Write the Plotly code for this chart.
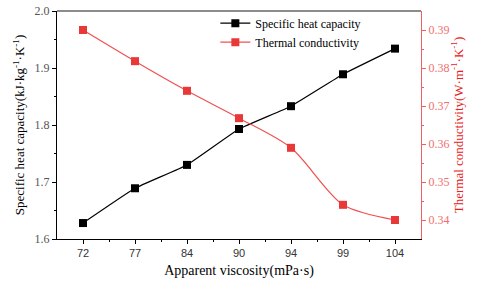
import plotly.graph_objects as go

viscosity = ["72", "77", "84", "90", "94", "99", "104"]
heat_capacity = [1.628, 1.689, 1.730, 1.793, 1.833, 1.889, 1.934]
thermal_cond = [0.390, 0.3818, 0.374, 0.3668, 0.359, 0.344, 0.340]

xpos = list(range(len(viscosity)))
serif = "Liberation Serif, Times New Roman, serif"

fig = go.Figure()
fig.add_trace(go.Scatter(
    x=xpos, y=heat_capacity, name="Specific heat capacity", mode="lines+markers",
    line=dict(color="black", width=1.2, shape="spline", smoothing=0.3),
    marker=dict(symbol="square", size=8, color="black"),
))
fig.add_trace(go.Scatter(
    x=xpos, y=thermal_cond, name="Thermal conductivity", mode="lines+markers",
    yaxis="y2",
    line=dict(color="#f05050", width=1.2, shape="spline", smoothing=0.8),
    marker=dict(symbol="square", size=8, color="#e83838"),
))

fig.update_layout(
    width=480, height=284,
    margin=dict(l=57, r=59, t=11, b=45, autoexpand=False),
    plot_bgcolor="white", paper_bgcolor="white",
    showlegend=True,
    legend=dict(x=0.435, y=1.01, xanchor="left", yanchor="top",
                bgcolor="rgba(0,0,0,0)", font=dict(family=serif, size=12, color="black"),
                tracegroupgap=0, itemwidth=30),
    xaxis=dict(
        range=[-0.5, 6.5], tickvals=xpos, ticktext=viscosity, automargin=False,
        showgrid=False, zeroline=False,
        showline=True, linecolor="black", linewidth=1.2, mirror=False,
        ticks="outside", ticklen=4, tickcolor="black",
        minor=dict(tickvals=[i + 0.5 for i in xpos[:-1]], ticks="outside", ticklen=2, tickcolor="black"),
        tickfont=dict(family="Liberation Sans, Arial, sans-serif", size=11, color="#333"),
        title=dict(text="Apparent viscosity(mPa·s)", font=dict(family=serif, size=14, color="black"), standoff=6),
    ),
    yaxis=dict(
        range=[1.6, 2.0], dtick=0.1, tickformat=".1f", automargin=False,
        showgrid=False, zeroline=False,
        showline=True, linecolor="black", linewidth=1.2,
        ticks="outside", ticklen=4, tickcolor="black",
        minor=dict(tickvals=[1.65, 1.75, 1.85, 1.95], ticks="outside", ticklen=2, tickcolor="black"),
        tickfont=dict(family=serif, size=12, color="#555"),
        title=dict(text="Specific heat capacity(kJ·kg<sup>-1</sup>·K<sup>-1</sup>)",
                   font=dict(family=serif, size=13, color="black"), standoff=6),
    ),
    yaxis2=dict(
        overlaying="y", side="right", automargin=False,
        range=[0.335, 0.395], tickvals=[0.34, 0.35, 0.36, 0.37, 0.38, 0.39], tickformat=".2f",
        showgrid=False, zeroline=False,
        showline=True, linecolor="#f06060", linewidth=1.2,
        ticks="outside", ticklen=4, tickcolor="#f06060",
        minor=dict(tickvals=[0.345, 0.355, 0.365, 0.375, 0.385], ticks="outside", ticklen=2, tickcolor="#f06060"),
        tickfont=dict(family=serif, size=12, color="#f07070"),
        title=dict(text="Thermal conductivity(W·m<sup>-1</sup>·K<sup>-1</sup>)",
                   font=dict(family=serif, size=13, color="#e82020"), standoff=4),
    ),
    shapes=[dict(type="line", xref="paper", yref="paper", x0=0, x1=1, y0=1, y1=1,
                 line=dict(color="#666", width=1.5))],
)

fig.write_html("out.html", config={"displayModeBar": False},
               post_script="document.body.style.margin='0';document.body.style.padding='0';")
